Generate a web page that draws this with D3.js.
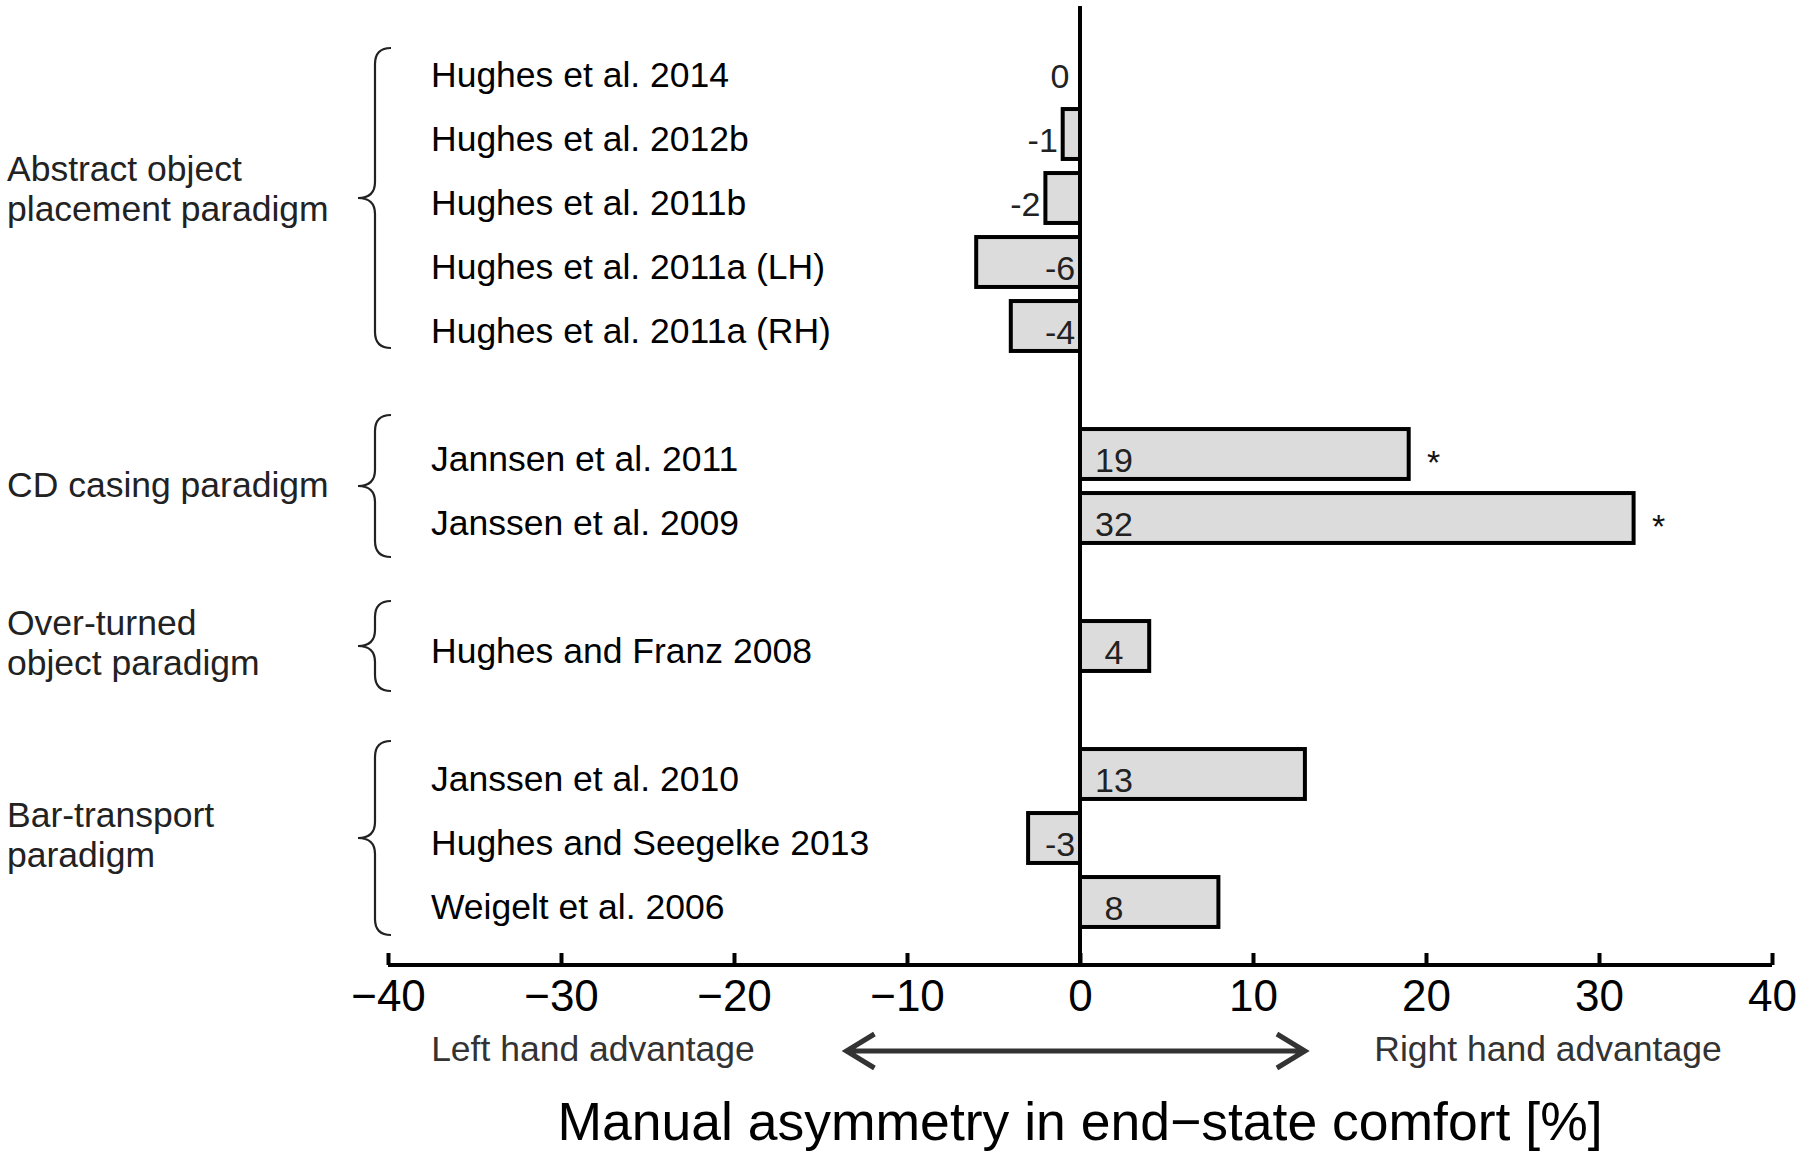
<!DOCTYPE html>
<html>
<head>
<meta charset="utf-8">
<script src="https://cdn.jsdelivr.net/npm/d3@7"></script>
<style>
  html, body { margin: 0; padding: 0; background: #ffffff; }
  svg { display: block; }
  text { font-family: "Liberation Sans", Arial, Helvetica, sans-serif; }
</style>
</head>
<body>
<svg id="chart" width="1800" height="1160"></svg>
<script>
// ---------------- data ----------------
const studies = [
  "Hughes et al. 2014",
  "Hughes et al. 2012b",
  "Hughes et al. 2011b",
  "Hughes et al. 2011a (LH)",
  "Hughes et al. 2011a (RH)",
  "Jannsen et al. 2011",
  "Janssen et al. 2009",
  "Hughes and Franz 2008",
  "Janssen et al. 2010",
  "Hughes and Seegelke 2013",
  "Weigelt et al. 2006"
];
const values = [0, -1, -2, -6, -4, 19, 32, 4, 13, -3, 8];
const significant = [false, false, false, false, false, true, true, false, false, false, false];
const groupNames = [
  ["Abstract object", "placement paradigm"],
  ["CD casing paradigm"],
  ["Over-turned", "object paradigm"],
  ["Bar-transport", "paradigm"]
];
const groupSizes = [5, 2, 1, 3];
const xTicks = [-40, -30, -20, -10, 0, 10, 20, 30, 40];
const xDomain = [-40, 40];
const arrowSpan = [-13.5, 13];
const leftNote = "Left hand advantage";
const rightNote = "Right hand advantage";
const xTitle = "Manual asymmetry in end\u2212state comfort [%]";

// ---------------- layout ----------------
const slots = [];
const rows = [];
const groupInfo = [];
let si = 0, studyIdx = 0;
groupSizes.forEach((n, g) => {
  const members = [];
  for (let k = 0; k < n; k++) {
    const key = "s" + si;
    slots.push(key);
    rows.push({ key, name: studies[studyIdx], value: values[studyIdx], sig: significant[studyIdx] });
    members.push(key);
    si++; studyIdx++;
  }
  groupInfo.push({ lines: groupNames[g], members });
  if (g < groupSizes.length - 1) { slots.push("gap" + si); si++; }
});

const svg = d3.select("#chart");
const x = d3.scaleLinear().domain(xDomain).range([388, 1772]);
const y = d3.scalePoint().domain(slots).range([70, 902]);
const step = y.step();
const barH = step * 0.78;
const axisY = 965;
const x0 = x(0);
const labelSize = 35.5;

// ---------------- bars ----------------
svg.append("g").selectAll("rect")
  .data(rows.filter(d => d.value !== 0))
  .join("rect")
  .attr("x", d => x(Math.min(0, d.value)))
  .attr("width", d => Math.abs(x(d.value) - x0))
  .attr("y", d => y(d.key) - barH / 2)
  .attr("height", barH)
  .attr("fill", "#dcdcdc")
  .attr("stroke", "#000")
  .attr("stroke-width", 4);

// zero line
svg.append("line")
  .attr("x1", x0).attr("x2", x0)
  .attr("y1", 6).attr("y2", axisY)
  .attr("stroke", "#000").attr("stroke-width", 4);

// value labels
svg.append("g").selectAll("text")
  .data(rows)
  .join("text")
  .attr("x", d => {
    if (d.value > 0) return x0 + 34;
    const w = Math.abs(x(d.value) - x0);
    return w > 45 ? x0 - 20 : x(d.value) - 20;
  })
  .attr("y", d => y(d.key) + 18)
  .attr("text-anchor", "middle")
  .attr("font-size", 34)
  .attr("fill", "#222")
  .text(d => d3.format("d")(d.value).replace("\u2212", "-"));

// significance stars
svg.append("g").selectAll("text")
  .data(rows.filter(d => d.sig))
  .join("text")
  .attr("x", d => x(d.value) + 25)
  .attr("y", d => y(d.key) + 20)
  .attr("text-anchor", "middle")
  .attr("font-size", 34)
  .attr("fill", "#111")
  .text("*");

// study labels
svg.append("g").selectAll("text")
  .data(rows)
  .join("text")
  .attr("x", 431)
  .attr("y", d => y(d.key) + 17)
  .attr("font-size", labelSize)
  .attr("fill", "#000")
  .text(d => d.name);

// ---------------- braces & group labels ----------------
const xEnd = 391, xSpine = 375, xTip = 358, r = 16;
groupInfo.forEach(g => {
  const n = g.members.length;
  const first = y(g.members[0]), last = y(g.members[n - 1]);
  const mid = (first + last) / 2;
  const pad = Math.max(22, 45 - (n - 1) * 6);
  const half = (last - first) / 2 + pad;
  const y0 = mid - half, y1 = mid + half;
  const p = d3.path();
  p.moveTo(xEnd, y0);
  p.quadraticCurveTo(xSpine, y0, xSpine, y0 + r);
  p.lineTo(xSpine, mid - r);
  p.quadraticCurveTo(xSpine, mid, xTip, mid);
  p.quadraticCurveTo(xSpine, mid, xSpine, mid + r);
  p.lineTo(xSpine, y1 - r);
  p.quadraticCurveTo(xSpine, y1, xEnd, y1);
  svg.append("path").attr("d", p.toString())
    .attr("fill", "none").attr("stroke", "#222").attr("stroke-width", 2.2);

  const t = svg.append("text").attr("font-size", labelSize).attr("fill", "#222");
  const shift = n < 5 ? 6 : 0;
  if (g.lines.length === 1) {
    t.append("tspan").attr("x", 7).attr("y", mid + 11).text(g.lines[0]);
  } else {
    t.append("tspan").attr("x", 7).attr("y", mid - 17 + shift).text(g.lines[0]);
    t.append("tspan").attr("x", 7).attr("y", mid + 23 + shift).text(g.lines[1]);
  }
});

// ---------------- x axis ----------------
const axis = d3.axisBottom(x).tickValues(xTicks).tickSize(0).tickPadding(0);
const ax = svg.append("g").attr("transform", `translate(0,${axisY})`).call(axis);
ax.select(".domain").attr("stroke", "#000").attr("stroke-width", 4).attr("d", `M${x(xDomain[0])},0H${x(xDomain[1])}`);
ax.selectAll(".tick line").attr("y2", -12).attr("stroke", "#000").attr("stroke-width", 4);
ax.selectAll(".tick text")
  .attr("y", 46).attr("dy", null)
  .attr("font-size", 44)
  .attr("font-family", "Liberation Sans, Arial, sans-serif")
  .attr("fill", "#000");

// arrow
const ay = 1051;
const ah = 28, aw = 17;
const ap = d3.path();
ap.moveTo(x(arrowSpan[0]), ay); ap.lineTo(x(arrowSpan[1]), ay);
ap.moveTo(x(arrowSpan[0]) + ah, ay - aw); ap.lineTo(x(arrowSpan[0]), ay); ap.lineTo(x(arrowSpan[0]) + ah, ay + aw);
ap.moveTo(x(arrowSpan[1]) - ah, ay - aw); ap.lineTo(x(arrowSpan[1]), ay); ap.lineTo(x(arrowSpan[1]) - ah, ay + aw);
svg.append("path").attr("d", ap.toString())
  .attr("fill", "none").attr("stroke", "#333").attr("stroke-width", 5)
  .attr("stroke-linejoin", "miter");

svg.append("text").attr("x", 593).attr("y", 1061).attr("text-anchor", "middle")
  .attr("font-size", labelSize).attr("fill", "#333").text(leftNote);
svg.append("text").attr("x", 1548).attr("y", 1061).attr("text-anchor", "middle")
  .attr("font-size", labelSize).attr("fill", "#333").text(rightNote);

// title
svg.append("text").attr("x", x0).attr("y", 1140).attr("text-anchor", "middle")
  .attr("font-size", 53.5).attr("fill", "#000").text(xTitle);
</script>
</body>
</html>
